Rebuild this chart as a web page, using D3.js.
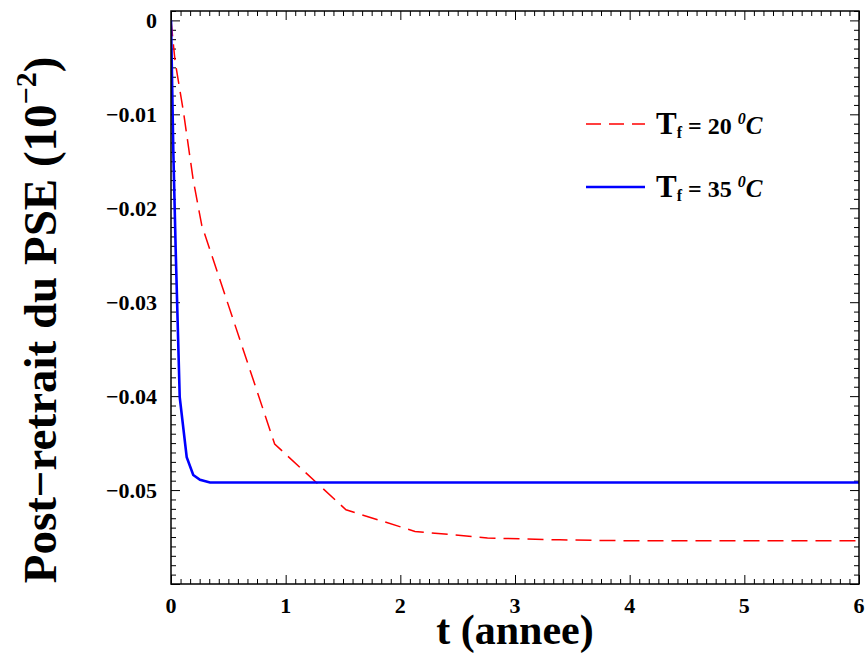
<!DOCTYPE html>
<html>
<head>
<meta charset="utf-8">
<script src="https://cdn.jsdelivr.net/npm/d3@7"></script>
<style>
  html, body { margin: 0; padding: 0; background: #fff; }
  svg { display: block; }
</style>
</head>
<body>
<svg id="chart" width="867" height="655"></svg>
<script>
// ---- data ----
const tf20_t = [0, 0.035, 0.107, 0.194, 0.268, 0.904, 1.526, 2.128, 2.76, 3.39, 4.0, 6.0];
const tf20_v = [0, -0.0043, -0.0096, -0.0170, -0.0218, -0.0451, -0.0521, -0.0544, -0.0551, -0.0553, -0.0554, -0.0554];
const tf35_t = [0, 0.020, 0.041, 0.076, 0.137, 0.194, 0.253, 0.34, 6.0];
const tf35_v = [0, -0.0138, -0.0245, -0.0401, -0.0465, -0.0484, -0.0489, -0.0492, -0.0492];
const xTicks = [0, 1, 2, 3, 4, 5, 6];
const yTicks = [0, -0.01, -0.02, -0.03, -0.04, -0.05];
const yTickLabels = ["0", "\u22120.01", "\u22120.02", "\u22120.03", "\u22120.04", "\u22120.05"];
const legendNames = ["20", "35"];

// ---- layout ----
const FONT = "Liberation Serif, DejaVu Serif, serif";
const L = 171, R = 859, T = 11, B = 584;
const svg = d3.select("#chart");
const x = d3.scaleLinear().domain([0, 6]).range([L, R]);
const y = d3.scaleLinear().domain([-0.06, 0.001]).range([B, T]);

const xMinor = d3.range(0, 72 + 1).map(i => i / 12).filter(v => Math.abs(v - Math.round(v)) > 1e-6);
const yMinor = d3.range(-60, 2).map(i => i / 1000).filter(v => Math.abs(v * 100 - Math.round(v * 100)) > 1e-6);
const yMajorAll = d3.range(-6, 1).map(i => i / 100);

function styleAxis(g) {
  g.select(".domain").remove();
  g.selectAll(".tick line").attr("stroke", "#000").attr("stroke-width", 1);
}
function txt(sel) {
  return sel.attr("font-family", FONT).attr("font-weight", "bold").attr("fill", "#000");
}
// bottom
svg.append("g").attr("transform", `translate(0,${B})`)
  .call(d3.axisBottom(x).tickValues(xMinor).tickSize(-5).tickFormat("")).call(styleAxis);
svg.append("g").attr("transform", `translate(0,${B})`)
  .call(d3.axisBottom(x).tickValues(xTicks).tickSize(-9).tickFormat("")).call(styleAxis);
// top
svg.append("g").attr("transform", `translate(0,${T})`)
  .call(d3.axisTop(x).tickValues(xMinor).tickSize(-5).tickFormat("")).call(styleAxis);
svg.append("g").attr("transform", `translate(0,${T})`)
  .call(d3.axisTop(x).tickValues(xTicks).tickSize(-9).tickFormat("")).call(styleAxis);
// left
svg.append("g").attr("transform", `translate(${L},0)`)
  .call(d3.axisLeft(y).tickValues(yMinor).tickSize(-5).tickFormat("")).call(styleAxis);
svg.append("g").attr("transform", `translate(${L},0)`)
  .call(d3.axisLeft(y).tickValues(yMajorAll).tickSize(-9).tickFormat("")).call(styleAxis);
// right
svg.append("g").attr("transform", `translate(${R},0)`)
  .call(d3.axisRight(y).tickValues(yMinor).tickSize(-5).tickFormat("")).call(styleAxis);
svg.append("g").attr("transform", `translate(${R},0)`)
  .call(d3.axisRight(y).tickValues(yMajorAll).tickSize(-9).tickFormat("")).call(styleAxis);

// tick labels
svg.append("g").selectAll("text").data(xTicks).join("text")
  .attr("x", d => x(d)).attr("y", 613).attr("text-anchor", "middle")
  .call(txt).attr("font-size", 22).text(d => d);
svg.append("g").selectAll("text").data(yTicks).join("text")
  .attr("x", 157).attr("y", d => y(d)).attr("dy", "0.34em").attr("text-anchor", "end")
  .call(txt).attr("font-size", 22).text((d, i) => yTickLabels[i]);

// lines
svg.append("clipPath").attr("id", "clip").append("rect")
  .attr("x", L).attr("y", T).attr("width", R - L).attr("height", B - T);
const line = d3.line().x(d => x(d[0])).y(d => y(d[1]));
svg.append("path").datum(tf20_t.map((t, i) => [t, tf20_v[i]]))
  .attr("d", line).attr("fill", "none").attr("stroke", "#ff0000")
  .attr("stroke-width", 1.5).attr("stroke-dasharray", "16,8").attr("clip-path", "url(#clip)");
svg.append("path").datum(tf35_t.map((t, i) => [t, tf35_v[i]]))
  .attr("d", line).attr("fill", "none").attr("stroke", "#0000ff")
  .attr("stroke-width", 2.6).attr("clip-path", "url(#clip)");

// frame
svg.append("rect").attr("x", L).attr("y", T).attr("width", R - L).attr("height", B - T)
  .attr("fill", "none").attr("stroke", "#000").attr("stroke-width", 1.5);

// legend
const legY = [124, 187];
const legStyle = [{ c: "#ff0000", w: 1.5, dash: "15,8" }, { c: "#0000ff", w: 2.6, dash: null }];
legendNames.forEach((nm, i) => {
  const ln = svg.append("line").attr("x1", 586).attr("x2", 645).attr("y1", legY[i]).attr("y2", legY[i])
    .attr("stroke", legStyle[i].c).attr("stroke-width", legStyle[i].w);
  if (legStyle[i].dash) ln.attr("stroke-dasharray", legStyle[i].dash);
  const tx = svg.append("text").attr("x", 656).attr("y", legY[i] + 10).call(txt);
  tx.append("tspan").attr("font-size", 31).text("T");
  tx.append("tspan").attr("font-size", 16).attr("dy", 4).text("f");
  tx.append("tspan").attr("font-size", 24).attr("dy", -4).text(" = " + nm + " ");
  tx.append("tspan").attr("font-size", 16).attr("font-style", "italic").attr("dy", -10).text("0");
  tx.append("tspan").attr("font-size", 25).attr("font-style", "italic").attr("dy", 10).text("C");
});

// axis titles
svg.append("text").attr("x", 515).attr("y", 644).attr("text-anchor", "middle")
  .call(txt).attr("font-size", 42).text("t (annee)");
const yl = svg.append("text").attr("transform", "translate(56,320) rotate(-90)")
  .attr("text-anchor", "middle").call(txt).attr("font-size", 47);
yl.append("tspan").text("Post\u2212retrait du PSE (10");
yl.append("tspan").attr("font-size", 30).attr("dy", -20).text("\u22122");
yl.append("tspan").attr("dy", 20).text(")");
</script>
</body>
</html>
